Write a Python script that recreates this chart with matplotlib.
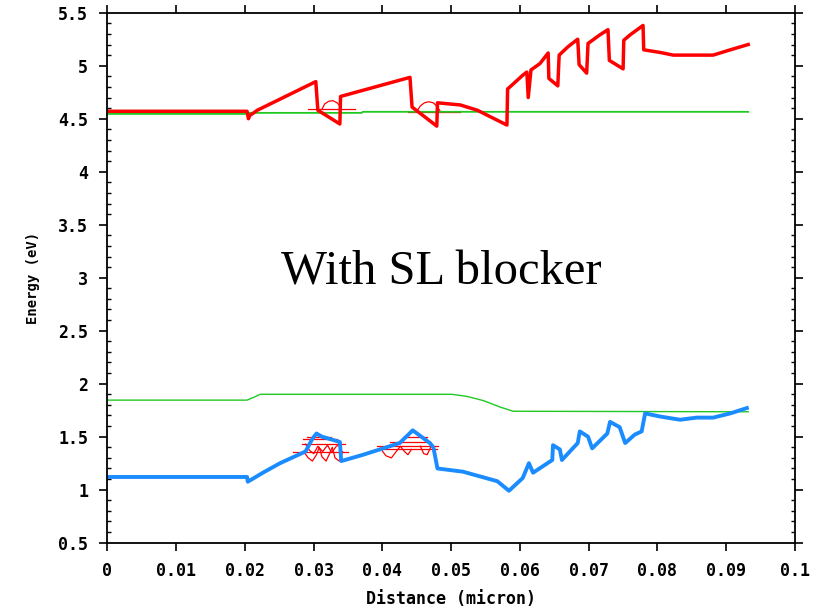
import matplotlib
matplotlib.use("Agg")
import matplotlib.pyplot as plt
from matplotlib.ticker import MultipleLocator, FuncFormatter

# conduction band edge (eV) vs distance (micron)
ec_x = [0, 0.0203, 0.0205, 0.0207, 0.0218, 0.0303, 0.0306, 0.0338, 0.0339,
        0.0440, 0.0443, 0.0479, 0.0480, 0.0513, 0.0538, 0.0581, 0.0582,
        0.0604, 0.0610, 0.0612, 0.0616, 0.0629, 0.0641, 0.0642, 0.0655,
        0.0657, 0.0670, 0.0684, 0.0686, 0.0697, 0.0699, 0.0716, 0.0728,
        0.0730, 0.0750, 0.0751, 0.0760, 0.0779, 0.0780, 0.0804, 0.0823,
        0.0881, 0.0906, 0.0932]
ec_y = [4.57, 4.57, 4.50, 4.53, 4.58, 4.85, 4.58, 4.45, 4.71,
        4.89, 4.61, 4.43, 4.65, 4.63, 4.58, 4.44, 4.78,
        4.91, 4.94, 4.70, 4.96, 5.02, 5.12, 4.88, 4.81,
        5.10, 5.18, 5.25, 5.01, 4.93, 5.21, 5.29, 5.34,
        5.05, 4.97, 5.24, 5.29, 5.38, 5.15, 5.125, 5.10,
        5.10, 5.15, 5.20]

# valence band edge
ev_x = [0, 0.0203, 0.0204, 0.0226, 0.0251, 0.0288, 0.0298, 0.0304, 0.0312,
        0.0338, 0.0340, 0.0372, 0.0401, 0.0425, 0.0444, 0.0469, 0.0474,
        0.0480, 0.0517, 0.0567, 0.0584, 0.0604, 0.0613, 0.0619, 0.0647,
        0.0648, 0.0658, 0.0661, 0.0684, 0.0687, 0.0699, 0.0705, 0.0727,
        0.0731, 0.0745, 0.0753, 0.0767, 0.0777, 0.0782, 0.0804, 0.0833,
        0.0857, 0.0881, 0.0906, 0.0930]
ev_y = [1.12, 1.12, 1.075, 1.16, 1.25, 1.36, 1.48, 1.53, 1.50,
        1.45, 1.27, 1.33, 1.39, 1.44, 1.56, 1.44, 1.40,
        1.20, 1.17, 1.08, 0.99, 1.11, 1.25, 1.16, 1.28,
        1.42, 1.38, 1.28, 1.44, 1.55, 1.50, 1.39, 1.53,
        1.64, 1.59, 1.44, 1.52, 1.55, 1.72, 1.69, 1.66,
        1.68, 1.68, 1.72, 1.77]

# quasi-Fermi levels
efn_x = [0, 0.0205, 0.0206, 0.0370, 0.0371, 0.0932]
efn_y = [4.545, 4.545, 4.555, 4.555, 4.565, 4.565]
efp_x = [0, 0.0203, 0.0214, 0.0222, 0.0501, 0.0523, 0.0547, 0.0571, 0.0590, 0.0932]
efp_y = [1.845, 1.845, 1.875, 1.90, 1.90, 1.88, 1.84, 1.78, 1.74, 1.735]

# bound-state levels and wavefunctions in the wells
cb_levels = [(0.0292, 0.0360, 4.59), (0.0437, 0.0513, 4.566)]
cb_wave1_x = [0.0312, 0.0316, 0.0322, 0.0328, 0.0334, 0.0338]
cb_wave1_y = [4.59, 4.64, 4.665, 4.67, 4.65, 4.62]
cb_wave2_x = [0.0450, 0.0455, 0.0461, 0.0467, 0.0474, 0.0480, 0.0484]
cb_wave2_y = [4.57, 4.62, 4.65, 4.66, 4.65, 4.61, 4.57]

vb_levels = [(0.0290, 0.0325, 1.50), (0.0285, 0.0334, 1.475), (0.0283, 0.0346, 1.43),
             (0.0270, 0.0350, 1.36),
             (0.0430, 0.0465, 1.50), (0.0411, 0.0469, 1.45), (0.0392, 0.0481, 1.41),
             (0.0401, 0.0479, 1.38)]
vb_wave1_x = [0.0285, 0.0292, 0.0298, 0.0304, 0.0308, 0.0312, 0.0318, 0.0323,
              0.0327, 0.0331, 0.0337, 0.0342]
vb_wave1_y = [1.36, 1.30, 1.27, 1.33, 1.40, 1.31, 1.27, 1.34, 1.40, 1.30, 1.27, 1.36]
vb_wave1b_x = [0.0288, 0.0294, 0.0300, 0.0306, 0.0313, 0.0320, 0.0326, 0.0333, 0.0340]
vb_wave1b_y = [1.43, 1.37, 1.34, 1.41, 1.36, 1.42, 1.35, 1.41, 1.43]
vb_wave2_x = [0.0398, 0.0405, 0.0413, 0.0420, 0.0426, 0.0432, 0.0437, 0.0442]
vb_wave2_y = [1.38, 1.32, 1.30, 1.36, 1.41, 1.36, 1.33, 1.38]
vb_wave3_x = [0.0455, 0.0460, 0.0465, 0.0470]
vb_wave3_y = [1.41, 1.34, 1.33, 1.40]

RED = "#ff0000"
BLUE = "#1a8cff"
GREEN = "#22c822"

fig = plt.figure(figsize=(8.25, 6.11), dpi=100)
ax = fig.add_axes([0.1303, 0.1118, 0.8333, 0.8674])

for x0, x1, e in cb_levels + vb_levels:
    ax.plot([x0, x1], [e, e], color=RED, lw=0.9)
for wx, wy in [(cb_wave1_x, cb_wave1_y), (cb_wave2_x, cb_wave2_y),
               (vb_wave1_x, vb_wave1_y), (vb_wave1b_x, vb_wave1b_y),
               (vb_wave2_x, vb_wave2_y), (vb_wave3_x, vb_wave3_y)]:
    ax.plot(wx, wy, color=RED, lw=0.9)

ax.plot(efn_x, efn_y, color=GREEN, lw=1.3)
ax.plot(efp_x, efp_y, color=GREEN, lw=1.0)
ax.plot(ec_x, ec_y, color=RED, lw=2.5)
ax.plot(ev_x, ev_y, color=BLUE, lw=2.8)

ax.set_xlim(0, 0.1)
ax.set_ylim(0.5, 5.5)
ax.xaxis.set_major_locator(MultipleLocator(0.01))
ax.yaxis.set_major_locator(MultipleLocator(0.5))
ax.yaxis.set_minor_locator(MultipleLocator(0.1))
ax.xaxis.set_major_formatter(FuncFormatter(lambda v, p: f"{v:g}"))
ax.yaxis.set_major_formatter(FuncFormatter(lambda v, p: f"{v:g}"))

ax.tick_params(which="major", direction="out", length=6, width=1.2, pad=8,
               labelsize=12)
ax.tick_params(which="minor", direction="in", length=3, width=1.0,
               right=True)
ax.tick_params(which="major", top=True, right=True)
for sp in ax.spines.values():
    sp.set_linewidth(1.3)

mono = {"family": "DejaVu Sans Mono", "weight": "bold"}
for lab in ax.get_xticklabels() + ax.get_yticklabels():
    lab.set_fontfamily("DejaVu Sans Mono")
    lab.set_fontweight("bold")

ax.set_xlabel("Distance (micron)", fontsize=12, labelpad=7, **mono)
ax.set_ylabel("Energy (eV)", fontsize=10, labelpad=13, **mono)

ax.text(0.0486, 3.05, "With SL blocker", fontsize=35,
        family="Liberation Serif", ha="center", va="center")

fig.savefig("out.png", dpi=100)
